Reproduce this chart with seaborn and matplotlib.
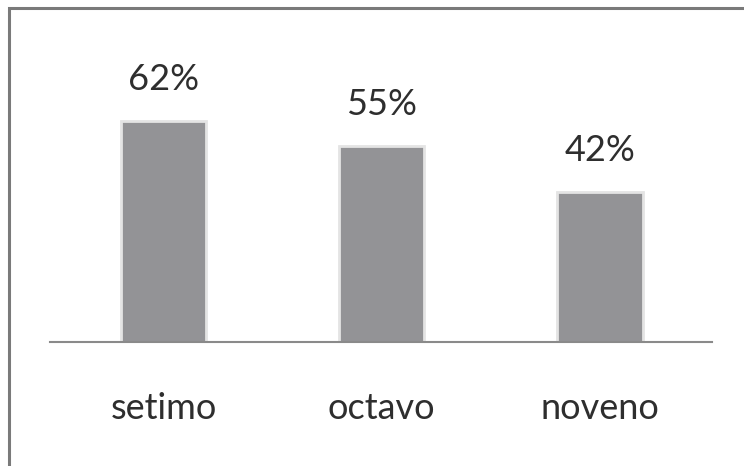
import numpy as np
import pandas as pd
import seaborn as sns
import matplotlib.pyplot as plt
from matplotlib.patches import Rectangle

grados = ['setimo', 'octavo', 'noveno']
porcentajes = [62, 55, 42]
etiquetas = ['62%', '55%', '42%']

sns.set_style('white')
plt.rcParams['font.family'] = ['Lato', 'DejaVu Sans']

df = pd.DataFrame({'grado': grados, 'pct': porcentajes})

fig = plt.figure(figsize=(7.44, 4.66), dpi=100)
ax = fig.add_axes([50/744, 124/466, 662/744, 333/466])

sns.barplot(data=df, x='grado', y='pct', color='#939396', saturation=1,
            width=0.39, edgecolor='#e4e4e4', linewidth=2, ax=ax)
ax.bar_label(ax.containers[0], labels=etiquetas, padding=18,
             fontsize=26, color='#2e2e2e')

ax.set_ylim(0, 93.3)
ax.set_xlim(-0.52, 2.513)
ax.set_xlabel('')
ax.set_ylabel('')
ax.set_yticks([])
for s in ['top', 'right', 'left']:
    ax.spines[s].set_visible(False)
ax.spines['bottom'].set_color('#8a8a8a')
ax.spines['bottom'].set_linewidth(1.5)
ax.tick_params(axis='x', length=0, pad=36, labelsize=26, labelcolor='#2e2e2e')

# marco exterior
fig.patches.append(Rectangle((9/744, -0.1), 1.0, (466-8)/466 + 0.1,
                             transform=fig.transFigure, fill=False,
                             edgecolor='#7a7a7a', linewidth=2.2))

fig.savefig('out.png', dpi=100)
